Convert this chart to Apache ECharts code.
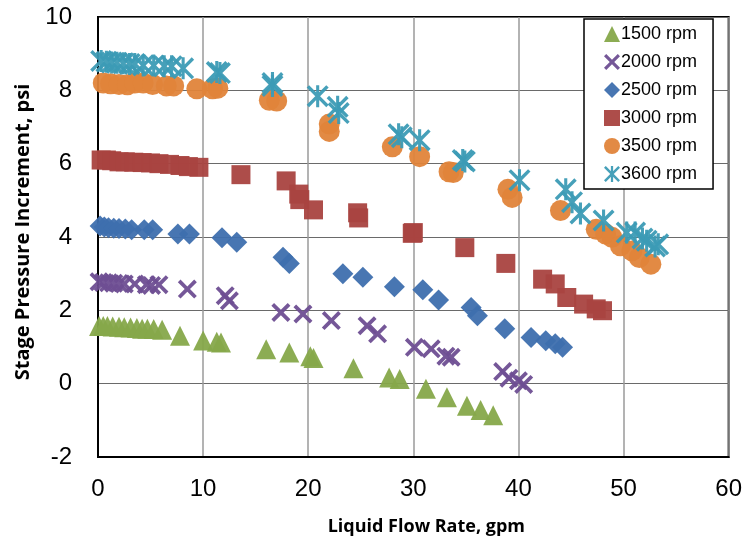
<!DOCTYPE html>
<html>
<head>
<meta charset="utf-8">
<script src="https://cdn.jsdelivr.net/npm/echarts@6/dist/echarts.min.js"></script>
<style>
  html, body { margin: 0; padding: 0; background: #fff; }
  #chart { width: 745px; height: 548px; }
</style>
</head>
<body>
<div id="chart"></div>
<script>
// Stage pressure increment (psi) against liquid flow rate (gpm), one series per pump speed
const seriesNames = ['1500 rpm', '2000 rpm', '2500 rpm', '3000 rpm', '3500 rpm', '3600 rpm'];

const xTicks = [0, 10, 20, 30, 40, 50, 60];
const yTicks = [-2, 0, 2, 4, 6, 8, 10];

const rpm1500 = [[0.1,1.57],[0.5,1.57],[0.9,1.57],[1.4,1.56],[2.0,1.55],[2.5,1.54],[3.1,1.53],[3.7,1.52],[4.2,1.5],[4.7,1.5],[5.3,1.49],[6.1,1.47],[7.8,1.31],[10.0,1.18],[11.3,1.14],[11.7,1.12],[16.0,0.94],[18.2,0.85],[20.2,0.75],[20.5,0.7],[24.3,0.42],[27.7,0.17],[28.7,0.13],[31.2,-0.14],[33.2,-0.37],[35.1,-0.6],[36.4,-0.72],[37.6,-0.86]];

const rpm2000 = [[0.1,2.78],[0.5,2.76],[1.0,2.75],[1.5,2.74],[2.0,2.73],[2.5,2.72],[3.5,2.72],[4.6,2.7],[5.1,2.68],[5.8,2.7],[8.5,2.58],[12.1,2.4],[12.5,2.26],[17.4,1.94],[19.5,1.9],[22.2,1.72],[25.6,1.58],[26.6,1.36],[30.1,0.99],[31.7,0.95],[33.1,0.75],[33.6,0.72],[38.5,0.33],[39.1,0.15],[40.0,0.08],[40.5,-0.02]];

const rpm2500 = [[0.2,4.3],[0.6,4.27],[1.0,4.25],[1.5,4.24],[2.0,4.23],[2.6,4.22],[3.2,4.2],[4.4,4.2],[5.2,4.2],[7.6,4.08],[8.7,4.08],[11.8,3.98],[13.2,3.86],[17.6,3.45],[18.2,3.28],[23.3,3.0],[25.2,2.9],[28.2,2.64],[30.9,2.56],[32.4,2.28],[35.5,2.08],[36.1,1.85],[38.7,1.5],[41.2,1.26],[42.6,1.17],[43.5,1.09],[44.2,0.99]];

const rpm3000 = [[0.3,6.1],[0.8,6.1],[1.3,6.08],[2.0,6.05],[2.6,6.05],[3.4,6.04],[4.2,6.03],[5.0,6.02],[5.8,6.0],[6.8,5.98],[7.8,5.95],[8.6,5.92],[9.6,5.9],[13.6,5.7],[17.9,5.53],[19.1,5.17],[19.2,5.02],[20.5,4.74],[24.7,4.66],[24.8,4.52],[29.9,4.1],[30.0,4.12],[34.9,3.71],[38.8,3.28],[42.3,2.85],[43.5,2.72],[44.6,2.35],[46.2,2.17],[47.4,2.04],[48.0,1.99]];

const rpm3500 = [[0.5,8.2],[1.2,8.18],[2.0,8.16],[2.8,8.15],[3.5,8.2],[4.3,8.2],[5.2,8.16],[6.5,8.12],[7.2,8.12],[9.4,8.04],[10.9,8.04],[11.4,8.06],[16.3,7.73],[17.0,7.71],[22.0,7.08],[22.0,6.88],[28.0,6.46],[30.6,6.19],[33.4,5.78],[33.8,5.76],[39.0,5.3],[39.4,5.08],[44.0,4.72],[47.4,4.21],[48.3,4.08],[48.9,3.99],[49.7,3.76],[50.8,3.62],[51.5,3.44],[52.6,3.26]];

const rpm3600 = [[0.3,8.8],[0.8,8.78],[1.3,8.76],[1.8,8.75],[2.4,8.74],[3.0,8.72],[3.5,8.72],[4.3,8.68],[5.3,8.68],[6.3,8.66],[7.0,8.66],[8.1,8.6],[11.3,8.5],[11.6,8.47],[16.6,8.12],[16.6,8.2],[20.9,7.84],[22.8,7.55],[22.9,7.38],[28.6,6.8],[28.9,6.72],[30.6,6.64],[34.7,6.1],[34.9,6.06],[40.1,5.55],[44.5,5.3],[45.1,4.95],[45.9,4.64],[48.1,4.45],[50.3,4.12],[51.1,4.12],[51.8,3.96],[52.2,3.9],[53.0,3.74],[53.3,3.8]];

const seriesData = [rpm1500, rpm2000, rpm2500, rpm3000, rpm3500, rpm3600];

const colors = ['#86A84A', '#6E4E92', '#3E6FAE', '#A94340', '#E0843A', '#3C9BB5'];

// Marker shapes: filled X and a six-armed asterisk (X with a vertical bar)
const xMark = 'path://M0,14 L14,0 L50,36 L86,0 L100,14 L64,50 L100,86 L86,100 L50,64 L14,100 L0,86 L36,50 Z';
const starMark = 'path://M0,11 L11,0 L50,39 L89,0 L100,11 L61,50 L100,89 L89,100 L50,61 L11,100 L0,89 L39,50 Z M43,0 L57,0 L57,100 L43,100 Z';

const symbols = ['triangle', xMark, 'diamond', 'rect', 'circle', starMark];
const symbolSizes = [20, 19, 21, 19, 21, 22];

const chart = echarts.init(document.getElementById('chart'), null, { renderer: 'canvas' });

const tickFont = { fontFamily: 'Liberation Sans, Arial, sans-serif', fontSize: 24, color: '#000' };

chart.setOption({
  animation: false,
  backgroundColor: '#fff',
  grid: {
    left: 98, right: 15, top: 17, bottom: 91,
    show: true, borderColor: '#000', borderWidth: 2, backgroundColor: 'transparent'
  },
  legend: {
    orient: 'vertical',
    left: 584, top: 19,
    data: seriesNames,
    itemWidth: 16, itemHeight: 16, itemGap: 10,
    padding: [6, 16, 6, 20],
    borderColor: '#000', borderWidth: 1.5,
    backgroundColor: '#fff',
    textStyle: { fontFamily: 'Liberation Sans, Arial, sans-serif', fontSize: 18, color: '#000', padding: [0, 0, 0, -4] }
  },
  xAxis: {
    type: 'value', min: 0, max: 60, interval: 10,
    name: 'Liquid Flow Rate, gpm', nameLocation: 'middle', nameGap: 61,
    nameTextStyle: { fontFamily: 'Open Sans, sans-serif', fontWeight: 'bold', fontSize: 18, color: '#000', padding: [0, 0, 0, 26] },
    axisLine: { show: true, onZero: false, lineStyle: { color: '#000', width: 2 } },
    axisTick: { show: false },
    axisLabel: Object.assign({ margin: 20, formatter: v => xTicks.includes(v) ? String(v) : '' }, tickFont),
    splitLine: { show: true, lineStyle: { color: '#9a9a9a', width: 1.5 } }
  },
  yAxis: {
    type: 'value', min: -2, max: 10, interval: 2,
    name: 'Stage Pressure Increment, psi', nameLocation: 'middle', nameGap: 65,
    nameTextStyle: { fontFamily: 'Open Sans, sans-serif', fontWeight: 'bold', fontSize: 20, color: '#000', padding: [0, 0, 0, 10] },
    axisLine: { show: true, onZero: false, lineStyle: { color: '#000', width: 2 } },
    axisTick: { show: false },
    axisLabel: Object.assign({ margin: 26, formatter: v => yTicks.includes(v) ? String(v) : '' }, tickFont),
    splitLine: { show: true, lineStyle: { color: '#6a6a6a', width: 1 } }
  },
  series: seriesNames.map((name, i) => ({
    name: name,
    type: 'scatter',
    data: seriesData[i],
    symbol: symbols[i],
    symbolSize: symbolSizes[i],
    itemStyle: { color: colors[i], opacity: 0.95 },
    z: 2 + i
  }))
});
</script>
</body>
</html>
